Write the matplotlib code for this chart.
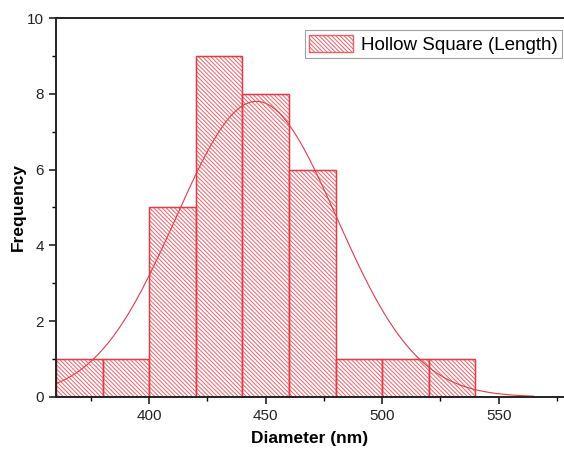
import numpy as np
import matplotlib
matplotlib.use("Agg")
import matplotlib.pyplot as plt

plt.rcParams['font.family'] = ['Liberation Sans', 'DejaVu Sans']
plt.rcParams['hatch.linewidth'] = 0.7

# histogram data (bin left edges, counts)
bin_edges = [360, 380, 400, 420, 440, 460, 480, 500, 520, 540]
counts = [1, 1, 5, 9, 8, 6, 1, 1, 1]

# normal fit curve parameters
fit_mean = 446.0
fit_sigma = 34.5
fit_amp = 7.8

red = '#e03c46'
hatch_red = '#ee5f6a'

fig = plt.figure(figsize=(5.64, 4.5), dpi=100)
ax = fig.add_axes([0.0993, 0.118, 0.9007, 0.842])

widths = np.diff(bin_edges)
# hatched fill (lighter), then the bar outlines on top
ax.bar(bin_edges[:-1], counts, width=widths, align='edge',
       facecolor='white', edgecolor=hatch_red, hatch='\\' * 8, linewidth=1.0,
       label='Hollow Square (Length)')
ax.bar(bin_edges[:-1], counts, width=widths, align='edge',
       facecolor='none', edgecolor=red, linewidth=0.9)

xs = np.linspace(360, 565, 400)
ys = fit_amp * np.exp(-(xs - fit_mean) ** 2 / (2 * fit_sigma ** 2))
ax.plot(xs, ys, color=red, linewidth=0.8)

ax.set_xlim(360, 578)
ax.set_ylim(0, 10)
ax.set_xticks([400, 450, 500, 550])
ax.set_xticks(np.arange(375, 578, 25), minor=True)
ax.set_yticks([0, 2, 4, 6, 8, 10])
ax.set_yticks(np.arange(0, 10, 1), minor=True)
ax.tick_params(axis='both', which='major', direction='out', length=5, width=1.2,
               labelsize=11, colors='#222222')
ax.tick_params(axis='both', which='minor', direction='out', length=3, width=1.0)
for side in ['left', 'bottom', 'top']:
    ax.spines[side].set_linewidth(1.4)
    ax.spines[side].set_color('#222222')
ax.spines['right'].set_visible(False)

ax.set_xlabel('Diameter (nm)', fontsize=12.5, fontweight='bold', labelpad=6)
ax.set_ylabel('Frequency', fontsize=12.5, fontweight='bold', labelpad=1)

leg = ax.legend(loc='upper right', bbox_to_anchor=(0.997, 0.968),
                fontsize=13.5, frameon=True, fancybox=False,
                borderpad=0.25, handlelength=2.3, handleheight=1.0,
                handletextpad=0.45, borderaxespad=0.0)
leg.get_frame().set_edgecolor('#888888')
leg.get_frame().set_linewidth(0.8)

fig.savefig('out.png', dpi=100)
